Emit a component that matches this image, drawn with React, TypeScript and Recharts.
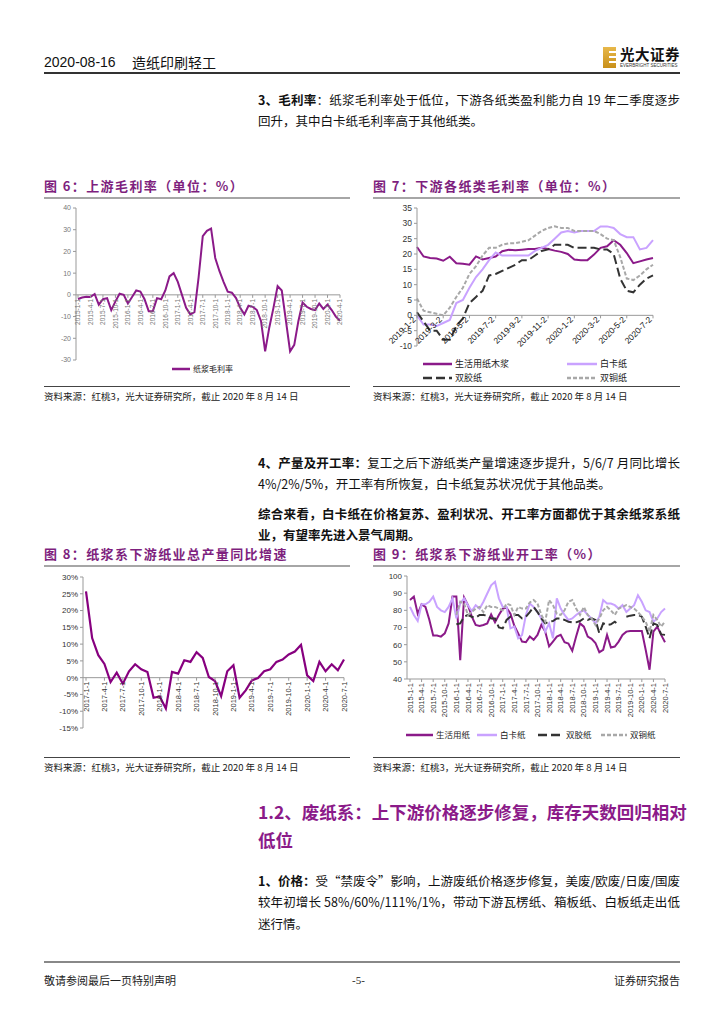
import React from "react";
import { LineChart, Line, XAxis, YAxis, ReferenceLine } from "recharts";

const PURPLE = "#8B1A89";
const LILAC = "#C9A2FF";
const DARK = "#333333";
const GREY = "#A8A8A8";
const TITLE = "#7E1F7E";
const SANS = '"Liberation Sans", Arial, "Noto Sans CJK SC", sans-serif';
const CJK = '"Noto Sans CJK SC", "Liberation Sans", sans-serif';

// month keys like "2015-1-1"
function months(y0: number, m0: number, n: number) {
  const out: string[] = [];
  for (let i = 0; i < n; i++) {
    const t = m0 - 1 + i;
    out.push(`${y0 + Math.floor(t / 12)}-${(t % 12) + 1}-1`);
  }
  return out;
}

// ---- 图6 上游毛利率, monthly 2015-1 .. 2020-4
const months6 = months(2015, 1, 64);
const upstreamMargin = [
  -1.9, -1.2, -0.9, -1, 0.4, -4.5, -2, -1.5, -7, -3, 0.5, 0, -4, -1, 2, 1.5,
  -2, -7.5, -7.5, -1.5, -2, 2, 8.5, 10, 6, 0, -6, -9, -8, 8, 27, 29.5, 30.5,
  17, 11, 6, 1.5, 1, -1.5, -6, -9, -5, -5.5, -7, -12, -26, -15, -6, 4, 2,
  -12, -26, -23, -12, -3.5, -5.5, -6.5, -7, -4, -6.5, -4.5, -7, -10, -12,
];
const ticks6 = [-30, -20, -10, 0, 10, 20, 30, 40];

// ---- 图7 下游各纸类毛利率, half-monthly 2019-1-2 .. 2020-7-2
const dates7 = [
  "2019-1-2", "2019-1-17", "2019-2-2", "2019-2-17", "2019-3-2", "2019-3-17",
  "2019-4-2", "2019-4-17", "2019-5-2", "2019-5-17", "2019-6-2", "2019-6-17",
  "2019-7-2", "2019-7-17", "2019-8-2", "2019-8-17", "2019-9-2", "2019-9-17",
  "2019-10-2", "2019-10-17", "2019-11-2", "2019-11-17", "2019-12-2",
  "2019-12-17", "2020-1-2", "2020-1-17", "2020-2-2", "2020-2-17", "2020-3-2",
  "2020-3-17", "2020-4-2", "2020-4-17", "2020-5-2", "2020-5-17", "2020-6-2",
  "2020-6-17", "2020-7-2",
];
const tissuePulp7 = [
  22.3, 19.2, 18.7, 18.5, 17.8, 19.1, 17, 16.8, 16.5, 19.2, 18.2, 18.7, 19.2,
  20.9, 21.4, 21.2, 21.4, 21.6, 21.6, 22, 21.6, 21.1, 20.7, 20, 18.2, 18, 18,
  19.8, 22, 22.5, 24.5, 23, 20.3, 17, 17.6, 18.2, 18.7,
];
const ivory7 = [
  0, -3, -3, -3.5, -2.5, -1.5, 4, 5, 9, 12.5, 15, 18, 20.5, 19.5, 19.5, 19.5,
  19.5, 19.5, 21, 22, 23, 25, 27, 27.5, 27, 27.5, 27.5, 27.5, 29, 29, 28.5,
  26.5, 25.5, 25.5, 21.5, 22, 24.5,
];
const woodfree7 = [
  1, -2, -5, -5, -8, -8, -3.5, -1, 4, 6, 8, 13, 13.5, 14.5, 15.5, 16.5, 18, 18,
  19.5, 21, 21.5, 23, 23, 23, 22, 22, 22, 22, 21.5, 21.5, 20, 12, 8, 7.5, 10,
  12, 13,
];
const coated7 = [
  5.5, 1.5, 1, 0.5, 0, 2.5, 6, 9, 13.5, 16, 19.5, 22, 22, 23, 23.5, 23.5, 24,
  24.5, 26, 27.5, 28.5, 29, 28.5, 28.5, 27.5, 27.5, 27.5, 27.5, 26.5, 25, 24.5,
  19, 12, 11.5, 13, 15, 16.5,
];
const ticks7 = [-10, -5, 0, 5, 10, 15, 20, 25, 30, 35];

// ---- 图8 纸浆系下游纸业总产量同比增速, monthly 2017-1 .. 2020-7
const months8 = months(2017, 1, 43);
const outputYoy = [
  25.7, 11.8, 6.7, 4.1, -1.3, 1.5, -1.8, 1.9, 4, 2.5, 1.7, -6, -5.6, -9.2, 1.7,
  1.2, 5.2, 4.7, 7.6, 5.9, 0.2, -1, -5.5, 1.9, 3.7, -6, -3.8, -0.8, -0.1, 1.9,
  2.5, 4.7, 5.4, 6.9, 7.8, 9.8, 0.7, -1, 4.7, 1.9, 4, 2.2, 5.4,
];
const ticks8 = [-15, -10, -5, 0, 5, 10, 15, 20, 25, 30];

// ---- 图9 纸浆系下游纸业开工率, monthly 2015-1 .. 2020-7
const months9 = months(2015, 1, 67);
const tissue9 = [
  86, 88, 78, 83.5, 82, 74.5, 65.3, 65.3, 64.7, 66.6, 72.4, 88, 88, 51, 87.5,
  83, 76.3, 71.5, 70.9, 71.5, 72.4, 77.6, 73, 77.3, 81, 81.5, 78, 71, 66.6,
  61.8, 61.4, 64.7, 62.8, 65.7, 71.5, 67.6, 59, 61.8, 64.7, 65.7, 61.4, 60.7,
  56.4, 64.7, 72.4, 70.5, 64.7, 63.4, 61, 55.6, 57, 65.7, 58.3, 58.9, 61.8,
  65.7, 67.6, 68, 68, 68, 68, 57, 45.4, 67.6, 70.5, 65.7, 61.4,
];
const ivory9 = [
  82, 77.3, 73.8, 83.5, 83.5, 85, 88, 82, 80, 79, 82, 87, 75.3, 84, 87, 83,
  79.6, 83, 81, 85, 89.8, 94.6, 96.6, 87, 82, 82, 69.5, 70.5, 63.7, 65.7, 77.3,
  84, 82, 79, 75.3, 67.6, 72.4, 63.7, 87, 81, 77.3, 74.4, 75.3, 77.3, 79, 80,
  77.3, 75.3, 72.4, 76.3, 86, 84, 84, 83, 81, 83, 79, 81, 83, 88.8, 85, 80, 79,
  73.4, 75.3, 79, 81,
];
const woodfree9 = [
  null, null, null, null, null, null, null, null, null, null, null, null,
  71.9, 72.4, 76.3, 77.3, 76.3, 75.7, 77.3, 77.3, 76.9, 75.3, 75.3, 70, 69.5,
  74.4, 76.3, 77.3, 77.3, 75.3, 76.3, 79, 82, 79, 75.3, 72.4, 73.4, 73.8, 75.3,
  75.3, 74.4, 73.4, 73, 73, 73.8, 75.3, 74.4, 75.3, 74.4, 66.6, 72.4, 71.5,
  71.9, 73.4, 71.5, null, 76.3, 76.9, 77.3, 77.3, 76.3, 70.5, 63.7, 72.4, 71.5,
  66, 65.7,
];
const coated9 = [
  null, null, null, null, null, null, null, null, null, null, null, null,
  77.3, 85, 84, 77.3, 79, 81, 82, 79, 83, 82, 82, 81, 80, 84, 83, 77.3, 82, 81,
  81, 84.6, 86, 84, 77.3, 73.4, 86, 83, 78, 77.3, 80, 85, 86, 81, 77.3, 82,
  77.3, 75.3, 71.5, 75.3, 80, 82, 80, 77.3, 81, 82, 83, 82, 81, 79, 76.3, 73.4,
  67.6, 77.3, 74.4, 70.5, 73.4,
];
const ticks9 = [40, 50, 60, 70, 80, 90, 100];

const data6 = months6.map((d, i) => ({ d, v: upstreamMargin[i] }));
const data7 = dates7.map((d, i) => ({
  d,
  a: tissuePulp7[i],
  b: ivory7[i],
  c: woodfree7[i],
  e: coated7[i],
}));
const data8 = months8.map((d, i) => ({ d, v: outputYoy[i] }));
const data9 = months9.map((d, i) => ({
  d,
  a: tissue9[i],
  b: ivory9[i],
  c: woodfree9[i],
  e: coated9[i],
}));

// tick label hung from the zero line (or the bottom axis)
function hangTick(zeroY: number, angle: number, size: number, color: string) {
  return (p: any) => (
    <g transform={`translate(${p.x},${zeroY})`}>
      <line x1={0} y1={0} x2={0} y2={3} stroke="#999" />
      <text
        transform={`rotate(${angle})`}
        x={-4}
        y={0}
        dy="0.35em"
        textAnchor="end"
        fontSize={size}
        fill={color}
        fontFamily={SANS}
      >
        {p.payload.value}
      </text>
    </g>
  );
}

const yTick = (size: number, color: string) => ({
  fontSize: size,
  fill: color,
  fontFamily: SANS,
});

function Abs({ x, y, style, children }: any) {
  return (
    <div style={{ position: "absolute", left: x, top: y, whiteSpace: "nowrap", ...style }}>
      {children}
    </div>
  );
}

function JLine({ y, children, last, style }: any) {
  return (
    <div
      style={{
        position: "absolute",
        left: 258,
        top: y,
        width: 422,
        whiteSpace: "nowrap",
        textAlign: "justify",
        textAlignLast: last ? "left" : "justify",
        fontSize: 12.5,
        lineHeight: "16px",
        fontFamily: CJK,
        color: "#111",
        ...style,
      }}
    >
      {children}
    </div>
  );
}

function Swatch({ x, y, w, color, dash, label, size }: any) {
  return (
    <>
      <svg style={{ position: "absolute", left: x, top: y - 3 }} width={w} height={6}>
        <line x1={0} y1={3} x2={w} y2={3} stroke={color} strokeWidth={2.5} strokeDasharray={dash} />
      </svg>
      <Abs x={x + w + 3} y={y - size * 0.7} style={{ fontSize: size, lineHeight: `${size * 1.4}px`, fontFamily: CJK, color: "#222" }}>
        {label}
      </Abs>
    </>
  );
}

function FigTitle({ x, y, w, text }: any) {
  return (
    <>
      <Abs x={x} y={y - 9} style={{ fontSize: 13, lineHeight: "18px", fontWeight: 700, color: TITLE, fontFamily: CJK, letterSpacing: 1.4 }}>
        {text}
      </Abs>
      <div style={{ position: "absolute", left: x, top: y + 11, width: w, height: 2, background: "#A6A6A6" }} />
    </>
  );
}

function Source({ x, y, w }: any) {
  return (
    <>
      <div style={{ position: "absolute", left: x, top: y - 10, width: w, height: 1, background: "#444" }} />
      <Abs x={x} y={y - 6} style={{ fontSize: 9.5, lineHeight: "12px", fontFamily: CJK, color: "#222" }}>
        资料来源：红桃3，光大证券研究所，截止 2020 年 8 月 14 日
      </Abs>
    </>
  );
}

export default function App() {
  // chart 6 geometry
  const h6 = 185, top6 = 8, xh6 = 25;
  const plot6 = h6 - top6 - xh6;
  const zero6 = top6 + (40 / 70) * plot6;
  // chart 7
  const top7 = 8, xh7 = 39;
  const plot7 = h6 - top7 - xh7;
  const zero7 = top7 + (35 / 45) * plot7;
  // chart 8
  const top8 = 7, xh8 = 27;
  const plot8 = h6 - top8 - xh8;
  const zero8 = top8 + (30 / 45) * plot8;
  // chart 9
  const top9 = 6, xh9 = 76;
  const bottom9 = h6 - xh9;

  return (
    <div
      style={{
        position: "absolute",
        left: 0,
        top: 0,
        width: 724,
        height: 1024,
        overflow: "hidden",
        background: "#fff",
        fontFamily: CJK,
      }}
    >
      {/* header */}
      <Abs x={44} y={53} style={{ fontSize: 14, lineHeight: "18px", fontFamily: SANS, color: "#111" }}>
        2020-08-16
      </Abs>
      <Abs x={132} y={53} style={{ fontSize: 14, lineHeight: "18px", color: "#111" }}>
        造纸印刷轻工
      </Abs>
      <div style={{ position: "absolute", left: 44, top: 72, width: 636, height: 1.5, background: "#333" }} />
      <div style={{ position: "absolute", left: 603, top: 47, width: 13, height: 21, background: "linear-gradient(#E8B84A,#C8901A)" }} />
      <div style={{ position: "absolute", left: 609, top: 51, width: 7, height: 2, background: "#fff" }} />
      <div style={{ position: "absolute", left: 609, top: 56, width: 7, height: 2, background: "#fff" }} />
      <div style={{ position: "absolute", left: 609, top: 61, width: 7, height: 2, background: "#fff" }} />
      <Abs x={620} y={45} style={{ fontSize: 14.5, lineHeight: "17px", fontWeight: 700, color: "#111", letterSpacing: 0.5 }}>
        光大证券
      </Abs>
      <Abs x={620} y={63} style={{ fontSize: 4.5, lineHeight: "6px", fontFamily: SANS, color: "#333" }}>
        EVERBRIGHT SECURITIES
      </Abs>

      {/* paragraph 3 */}
      <JLine y={92}>
        <b>3、毛利率</b>：纸浆毛利率处于低位，下游各纸类盈利能力自 19 年二季度逐步
      </JLine>
      <JLine y={113} last>
        回升，其中白卡纸毛利率高于其他纸类。
      </JLine>

      {/* figure 6 */}
      <FigTitle x={44} y={186} w={306} text="图 6：上游毛利率（单位：%）" />
      <div style={{ position: "absolute", left: 44, top: 200 }}>
        <LineChart width={306} height={h6} data={data6} margin={{ top: top6, right: 10, left: 0, bottom: 0 }}>
          <XAxis
            dataKey="d"
            height={xh6}
            axisLine={false}
            tickLine={false}
            interval={2}
            padding={{ left: 2, right: 0 }}
            tick={hangTick(zero6, -90, 6.5, "#777")}
          />
          <YAxis
            width={32}
            domain={[-30, 40]}
            ticks={ticks6}
            interval={0}
            axisLine={{ stroke: "#999" }}
            tickLine={{ stroke: "#999" }}
            tickSize={3}
            tick={yTick(7, "#777")}
          />
          <ReferenceLine y={0} stroke="#999" />
          <Line dataKey="v" stroke={PURPLE} strokeWidth={2} dot={false} isAnimationActive={false} />
        </LineChart>
      </div>
      <Swatch x={172} y={369} w={18} color={PURPLE} label="纸浆毛利率" size={8} />
      <Source x={44} y={396} w={306} />

      {/* figure 7 */}
      <FigTitle x={373} y={186} w={307} text="图 7：下游各纸类毛利率（单位：%）" />
      <div style={{ position: "absolute", left: 373, top: 200 }}>
        <LineChart width={307} height={h6} data={data7} margin={{ top: top7, right: 27, left: 0, bottom: 0 }}>
          <XAxis
            dataKey="d"
            height={xh7}
            axisLine={false}
            tickLine={false}
            interval={3}
            tick={hangTick(zero7, -45, 8.5, "#111")}
          />
          <YAxis
            width={44}
            domain={[-10, 35]}
            ticks={ticks7}
            interval={0}
            axisLine={{ stroke: "#999" }}
            tickLine={{ stroke: "#999" }}
            tickSize={3}
            tick={yTick(8.5, "#333")}
          />
          <ReferenceLine y={0} stroke="#999" />
          <Line dataKey="a" stroke={PURPLE} strokeWidth={2} dot={false} isAnimationActive={false} />
          <Line dataKey="b" stroke={LILAC} strokeWidth={2} dot={false} isAnimationActive={false} />
          <Line dataKey="c" stroke={DARK} strokeWidth={2} strokeDasharray="9 4" dot={false} isAnimationActive={false} />
          <Line dataKey="e" stroke={GREY} strokeWidth={2} strokeDasharray="4 2" dot={false} isAnimationActive={false} />
        </LineChart>
      </div>
      <Swatch x={423} y={364} w={29} color={PURPLE} label="生活用纸木浆" size={9} />
      <Swatch x={567} y={364} w={30} color={LILAC} label="白卡纸" size={9} />
      <Swatch x={423} y={378} w={29} color={DARK} dash="9 4" label="双胶纸" size={9} />
      <Swatch x={567} y={378} w={30} color={GREY} dash="4 2" label="双铜纸" size={9} />
      <Source x={373} y={396} w={307} />

      {/* paragraph 4 */}
      <JLine y={455}>
        <b>4、产量及开工率：</b>复工之后下游纸类产量增速逐步提升，5/6/7 月同比增长
      </JLine>
      <JLine y={476} last>
        4%/2%/5%，开工率有所恢复，白卡纸复苏状况优于其他品类。
      </JLine>
      <JLine y={506} style={{ fontWeight: 700 }}>
        综合来看，白卡纸在价格复苏、盈利状况、开工率方面都优于其余纸浆系纸
      </JLine>
      <JLine y={527} last style={{ fontWeight: 700 }}>
        业，有望率先进入景气周期。
      </JLine>

      {/* figure 8 */}
      <FigTitle x={44} y={554} w={306} text="图 8：纸浆系下游纸业总产量同比增速" />
      <div style={{ position: "absolute", left: 44, top: 570 }}>
        <LineChart width={306} height={h6} data={data8} margin={{ top: top8, right: 6, left: 0, bottom: 0 }}>
          <XAxis
            dataKey="d"
            height={xh8}
            axisLine={false}
            tickLine={false}
            interval={2}
            padding={{ left: 3, right: 0 }}
            tick={hangTick(zero8, -90, 7.5, "#333")}
          />
          <YAxis
            width={39}
            domain={[-15, 30]}
            ticks={ticks8}
            interval={0}
            axisLine={{ stroke: "#999" }}
            tickLine={{ stroke: "#999" }}
            tickSize={3}
            tick={yTick(8, "#333")}
            tickFormatter={(v: number) => `${v}%`}
          />
          <ReferenceLine y={0} stroke="#999" />
          <Line dataKey="v" stroke="#87007F" strokeWidth={2.2} dot={false} isAnimationActive={false} />
        </LineChart>
      </div>
      <Source x={44} y={767} w={306} />

      {/* figure 9 */}
      <FigTitle x={373} y={554} w={307} text="图 9：纸浆系下游纸业开工率（%）" />
      <div style={{ position: "absolute", left: 373, top: 570 }}>
        <LineChart width={307} height={h6} data={data9} margin={{ top: top9, right: 15, left: 0, bottom: 0 }}>
          <XAxis
            dataKey="d"
            height={xh9}
            axisLine={{ stroke: "#999" }}
            tickLine={false}
            interval={2}
            padding={{ left: 3, right: 0 }}
            tick={hangTick(bottom9, -90, 7.5, "#333")}
          />
          <YAxis
            width={34}
            domain={[40, 100]}
            ticks={ticks9}
            interval={0}
            axisLine={{ stroke: "#999" }}
            tickLine={{ stroke: "#999" }}
            tickSize={3}
            tick={yTick(8, "#333")}
          />
          <Line dataKey="a" stroke={PURPLE} strokeWidth={2} dot={false} isAnimationActive={false} />
          <Line dataKey="b" stroke={LILAC} strokeWidth={2} dot={false} isAnimationActive={false} />
          <Line dataKey="c" stroke={DARK} strokeWidth={2} strokeDasharray="9 4" dot={false} isAnimationActive={false} />
          <Line dataKey="e" stroke={GREY} strokeWidth={2} strokeDasharray="4 2" dot={false} isAnimationActive={false} />
        </LineChart>
      </div>
      <Swatch x={406} y={735} w={27} color={PURPLE} label="生活用纸" size={8.5} />
      <Swatch x={477} y={735} w={20} color={LILAC} label="白卡纸" size={8.5} />
      <Swatch x={538} y={735} w={25} color={DARK} dash="9 4" label="双胶纸" size={8.5} />
      <Swatch x={601} y={735} w={26} color={GREY} dash="4 2" label="双铜纸" size={8.5} />
      <Source x={373} y={767} w={307} />

      {/* section 1.2 */}
      <JLine y={801} style={{ fontSize: 17.5, lineHeight: "22px", fontWeight: 700, color: "#8B1A89" }}>
        1.2、废纸系：上下游价格逐步修复，库存天数回归相对
      </JLine>
      <JLine y={829} last style={{ fontSize: 17.5, lineHeight: "22px", fontWeight: 700, color: "#8B1A89" }}>
        低位
      </JLine>
      <JLine y={873}>
        <b>1、价格：</b>受“禁废令”影响，上游废纸价格逐步修复，美废/欧废/日废/国废
      </JLine>
      <JLine y={894}>
        较年初增长 58%/60%/111%/1%，带动下游瓦楞纸、箱板纸、白板纸走出低
      </JLine>
      <JLine y={916} last>
        迷行情。
      </JLine>

      {/* footer */}
      <div style={{ position: "absolute", left: 44, top: 961, width: 636, height: 1.5, background: "#888" }} />
      <Abs x={44} y={973} style={{ fontSize: 11, lineHeight: "15px", color: "#222" }}>
        敬请参阅最后一页特别声明
      </Abs>
      <Abs x={352} y={973} style={{ fontSize: 11, lineHeight: "15px", color: "#222", fontFamily: '"Liberation Serif", serif' }}>
        -5-
      </Abs>
      <Abs x={614} y={973} style={{ fontSize: 11, lineHeight: "15px", color: "#222" }}>
        证券研究报告
      </Abs>
    </div>
  );
}
